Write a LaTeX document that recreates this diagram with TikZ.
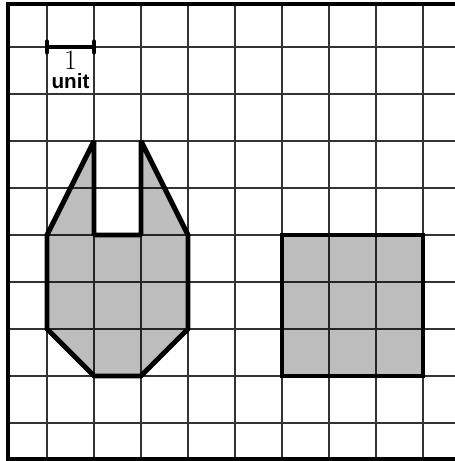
\documentclass[tikz,border=0pt]{standalone}
\usepackage{fontspec}
\usetikzlibrary{positioning}
\newfontfamily\labfont{Liberation Sans}
\begin{document}
\begin{tikzpicture}[x=1cm,y=1cm,
  gridline/.style={draw=black!80, line width=0.8pt},
  frame/.style={line width=2.2pt, line cap=rect},
  shapeline/.style={draw=black, line width=3pt, line join=bevel, fill=black, fill opacity=0.26}]
\useasboundingbox (0,0.191) rectangle (9.681,10);
\fill[white] (0,0.191) rectangle (9.681,10);
% grid
\foreach \i in {1,...,9} {
  \draw[gridline] (\i,0.234) -- (\i,9.915);
  \draw[gridline] (0.17,\i) -- (9.681,\i);
}
% frame
\draw[frame] (9.681,9.915) -- (0.17,9.915) -- (0.17,0.234) -- (9.681,0.234);
% shapes
\draw[shapeline] (2,7) -- (1,5) -- (1,3) -- (2,2) -- (3,2) -- (4,3) -- (4,5) -- (3,7) -- (3,5) -- (2,5) -- cycle;
\draw[shapeline, line join=miter] (6,2) rectangle (9,5);
% scale bar
\coordinate (sa) at (1,9);
\coordinate (sb) at (2,9);
\draw[line width=2.4pt] (sa) -- (sb);
\draw[line width=2.4pt, line cap=round] ([yshift=-0.12cm]sa) -- ([yshift=0.12cm]sa);
\draw[line width=2.4pt, line cap=round] ([yshift=-0.12cm]sb) -- ([yshift=0.12cm]sb);
\node[inner sep=0pt, font=\fontsize{17}{17}\selectfont] (one) at (1.5,8.71) {1};
\node[inner sep=0pt, font=\labfont\bfseries\fontsize{12.5}{12.5}\selectfont, below=2pt of one] (unit) {unit};
\end{tikzpicture}
\end{document}
